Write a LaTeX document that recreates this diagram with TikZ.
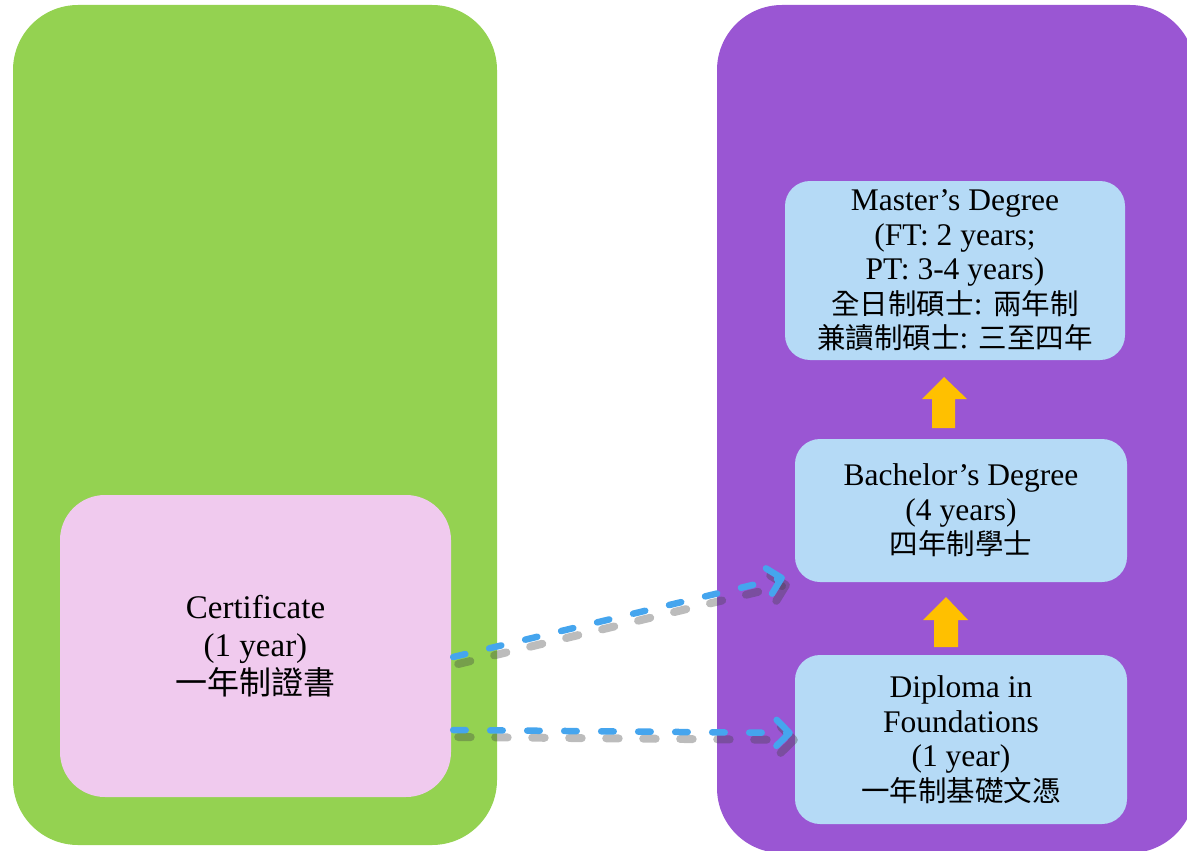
\documentclass[tikz,border=0pt]{standalone}
\usepackage{fontspec}
\setmainfont{Liberation Serif}
\newfontfamily\cjk{Noto Sans CJK TC}
\usetikzlibrary{arrows.meta,calc}
\definecolor{greenbg}{HTML}{94D251}
\definecolor{purplebg}{HTML}{9A56D3}
\definecolor{pinkbox}{HTML}{F0CAEE}
\definecolor{bluebox}{HTML}{B5DAF6}
\definecolor{yellowarr}{HTML}{FFC000}
\definecolor{dashblue}{HTML}{45A5EE}
\tikzset{
  panel/.style={rectangle, rounded corners=65pt, inner sep=0pt},
  degbox/.style={rectangle, rounded corners=25pt, fill=bluebox, inner sep=0pt, align=center,
    font=\fontsize{31.5}{34.5}\selectfont},
  certbox/.style={rectangle, rounded corners=45pt, fill=pinkbox, inner sep=0pt, align=center,
    font=\fontsize{33}{38}\selectfont},
  flowline/.style={draw=dashblue, line width=6.5pt, line cap=round, dash pattern=on 12.5pt off 24.5pt,
    -{Straight Barb[length=13pt,width=26pt,round]}},
  flowshadow/.style={draw=black!75, opacity=0.35, line width=8pt, line cap=round, dash pattern=on 12.5pt off 24.5pt,
    -{Straight Barb[length=13pt,width=26pt,round]}},
  uparrow/.style={fill=yellowarr}
}
\newcommand{\cjkA}[1]{{\cjk\fontsize{28.5}{34.5}\selectfont #1}}
\newcommand{\cjkB}[1]{{\cjk\fontsize{32}{38}\selectfont #1}}
\begin{document}
\begin{tikzpicture}[x=1pt,y=-1pt]
\useasboundingbox (0,0) rectangle (1187,851);
\begin{scope}
\clip (0,0) rectangle (1187,851);
\node[panel, fill=greenbg, minimum width=484pt, minimum height=840pt] (green) at (255,425) {};
\node[panel, fill=purplebg, minimum width=478pt, minimum height=848pt] (purple) at (956,429) {};
\end{scope}

\node[degbox, minimum width=340pt, minimum height=179pt] (master) at (955,270.5)
  {Master’s Degree\\(FT: 2 years;\\PT: 3-4 years)\\\cjkA{全日制碩士}: \cjkA{兩年制}\\\cjkA{兼讀制碩士}: \cjkA{三至四年}};
\node[degbox, minimum width=332pt, minimum height=143pt] (bach) at (961,510.5)
  {Bachelor’s Degree\\(4 years)\\\cjkA{四年制學士}};
\node[degbox, minimum width=332pt, minimum height=169pt] (dip) at (961,739.5)
  {Diploma in\\Foundations\\(1 year)\\\cjkA{一年制基礎文憑}};
\node[certbox, minimum width=391pt, minimum height=302pt] (cert) at (255.5,646)
  {Certificate\\(1 year)\\\cjkB{一年制證書}};

% yellow up arrows
\fill[uparrow] (944,377) -- (967,399) -- (955,399) -- (955,428) -- (932,428) -- (932,399) -- (922,399) -- cycle;
\fill[uparrow] (946,597) -- (968,620) -- (958,620) -- (958,647) -- (934,647) -- (934,620) -- (923,620) -- cycle;

% dashed connectors
\coordinate (c1) at ($(cert.east)+(2,11)$);
\coordinate (c2) at ($(cert.east)+(2,84)$);
\coordinate (b1) at ($(bach.south west)+(-10,-5)$);
\coordinate (d1) at ($(dip.west)+(-2,-6.5)$);
\draw[flowshadow, transform canvas={shift={(5pt,-7pt)}}] (c1) -- (b1);
\draw[flowshadow, transform canvas={shift={(5pt,-7pt)}}] (c2) -- (d1);
\draw[flowline] (c1) -- (b1);
\draw[flowline] (c2) -- (d1);
\end{tikzpicture}
\end{document}
